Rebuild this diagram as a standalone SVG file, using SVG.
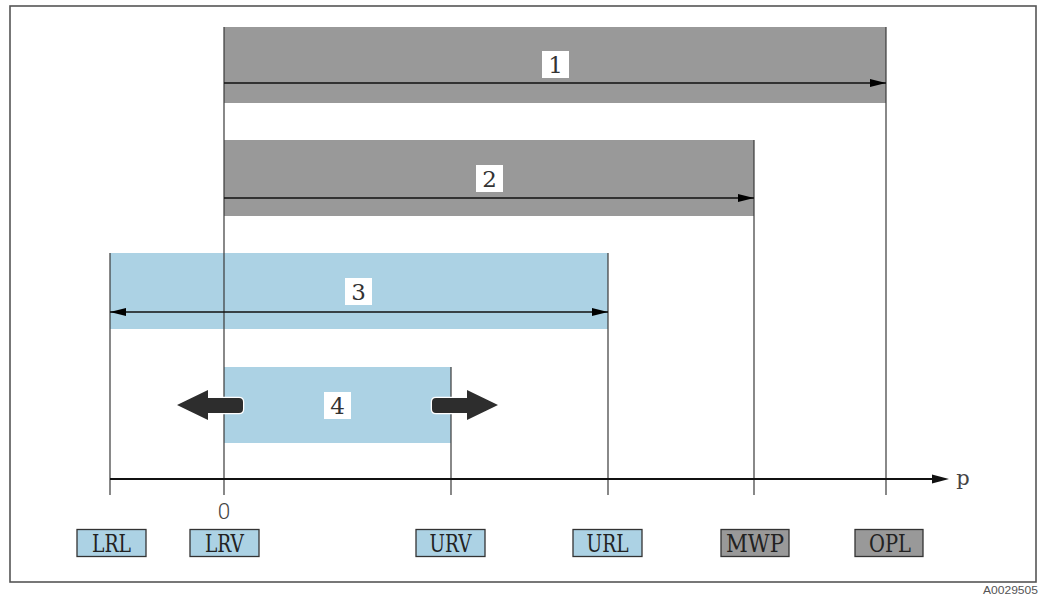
<svg xmlns="http://www.w3.org/2000/svg" width="1043" height="594" viewBox="0 0 1043 594">
<defs>
<style>
.gray{fill:#999999}
.blue{fill:#acd2e4}
.vl{stroke:#3a3a3a;stroke-width:1.2;fill:none}
.dim{stroke:#111;stroke-width:1.6;fill:none}
.num{font-family:"DejaVu Serif","Liberation Serif",serif;font-size:23px;fill:#333;text-anchor:middle;font-weight:300}
.lbl{font-family:"DejaVu Serif","Liberation Serif",serif;font-size:24px;fill:#222;text-anchor:middle}
.lbox{stroke:#333;stroke-width:1.3}
.fat{fill:#2d2d2d;stroke:#fff;stroke-width:2.5;paint-order:stroke}
</style>
<marker id="ah" viewBox="0 0 16 8" refX="16" refY="4" markerWidth="16" markerHeight="8" markerUnits="userSpaceOnUse" orient="auto-start-reverse">
<path d="M0,0 L16,4 L0,8 Z" fill="#000"/>
</marker>
</defs>
<rect width="1043" height="594" fill="#fff"/>
<rect x="10" y="6" width="1026" height="576" fill="none" stroke="#555" stroke-width="1.6"/>

<g id="bar1">
<rect class="gray" x="224" y="27" width="662" height="76"/>
<rect x="542" y="51" width="27" height="27" fill="#fff"/>
<text class="num" x="555.5" y="72.5">1</text>
</g>
<g id="bar2">
<rect class="gray" x="224" y="140" width="530" height="76"/>
<rect x="476" y="165" width="27" height="27" fill="#fff"/>
<text class="num" x="489.5" y="186.5">2</text>
</g>
<g id="bar3">
<rect class="blue" x="110" y="253" width="498" height="76"/>
<rect x="345" y="278" width="27" height="27" fill="#fff"/>
<text class="num" x="358.5" y="299.5">3</text>
</g>
<g id="bar4">
<rect class="blue" x="224" y="367" width="227" height="76"/>
<rect x="324" y="392" width="27" height="27" fill="#fff"/>
<text class="num" x="337.5" y="413.5">4</text>
</g>

<g id="connectors">
<line class="vl" x1="224" y1="27" x2="224" y2="495"/>
<line class="vl" x1="886" y1="27" x2="886" y2="495"/>
<line class="vl" x1="754" y1="140" x2="754" y2="495"/>
<line class="vl" x1="110" y1="253" x2="110" y2="495"/>
<line class="vl" x1="608" y1="253" x2="608" y2="495"/>
<line class="vl" x1="451" y1="367" x2="451" y2="495"/>
<line class="dim" x1="224" y1="83" x2="886" y2="83" marker-end="url(#ah)"/>
<line class="dim" x1="224" y1="198" x2="754" y2="198" marker-end="url(#ah)"/>
<line class="dim" x1="110" y1="312" x2="608" y2="312" marker-start="url(#ah)" marker-end="url(#ah)"/>
<path class="fat" d="M177,405 L208,390 L208,398 L239,398 Q243,398 243,402 L243,409 Q243,413 239,413 L208,413 L208,420 Z"/>
<path class="fat" d="M498,405 L467,390 L467,398 L436,398 Q432,398 432,402 L432,409 Q432,413 436,413 L467,413 L467,420 Z"/>
<line x1="110" y1="479" x2="934" y2="479" stroke="#111" stroke-width="2.2"/>
<path d="M932,474.5 L949,479 L932,483.5 Z" fill="#111"/>
</g>

<g id="axis-labels">
<text x="963" y="484.5" font-family="DejaVu Serif, Liberation Serif, serif" font-size="21" fill="#444" text-anchor="middle">p</text>
<text x="224" y="519" font-family="Roboto, DejaVu Sans, sans-serif" font-weight="300" font-size="22.5" fill="#444" text-anchor="middle">0</text>
</g>

<g id="LRL"><rect class="blue lbox" x="77" y="529.5" width="69" height="27"/><text class="lbl" x="111.5" y="551.7" textLength="39" lengthAdjust="spacingAndGlyphs">LRL</text></g>
<g id="LRV"><rect class="blue lbox" x="190" y="529.5" width="69" height="27"/><text class="lbl" x="224.5" y="551.7" textLength="39" lengthAdjust="spacingAndGlyphs">LRV</text></g>
<g id="URV"><rect class="blue lbox" x="416" y="529.5" width="69" height="27"/><text class="lbl" x="450.5" y="551.7" textLength="42" lengthAdjust="spacingAndGlyphs">URV</text></g>
<g id="URL"><rect class="blue lbox" x="573" y="529.5" width="69" height="27"/><text class="lbl" x="607.5" y="551.7" textLength="42" lengthAdjust="spacingAndGlyphs">URL</text></g>
<g id="MWP"><rect class="gray lbox" x="721" y="529.5" width="68" height="27"/><text class="lbl" x="755" y="551.7" textLength="58" lengthAdjust="spacingAndGlyphs">MWP</text></g>
<g id="OPL"><rect class="gray lbox" x="855" y="529.5" width="68" height="27"/><text class="lbl" x="890" y="551.7" textLength="42" lengthAdjust="spacingAndGlyphs">OPL</text></g>

<text x="1038" y="594" font-family="Liberation Sans, Arial, sans-serif" font-size="11" fill="#555" text-anchor="end" textLength="55" lengthAdjust="spacingAndGlyphs">A0029505</text>
</svg>
